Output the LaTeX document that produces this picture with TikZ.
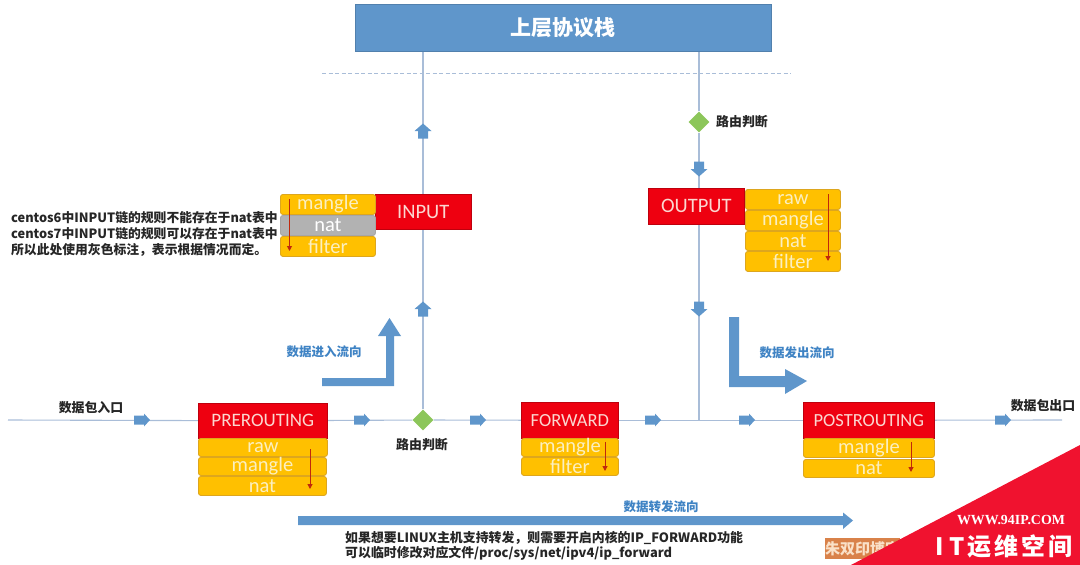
\documentclass[tikz,border=0pt]{standalone}
\usepackage{fontspec}
\setmainfont{Carlito}
\newfontfamily\cjk{Noto Sans CJK SC}
\newfontfamily\wmserif{Liberation Serif}
\usetikzlibrary{shapes.geometric,arrows.meta}
\pgfdeclarelayer{back}
\pgfsetlayers{back,main}
\definecolor{flowblue}{HTML}{5F96CB}
\definecolor{linebl}{HTML}{A9BDD8}
\definecolor{amber}{HTML}{FFC000}
\definecolor{amberline}{HTML}{DDA61E}
\definecolor{tabletext}{HTML}{FBEFC0}
\definecolor{chainred}{HTML}{EE0010}
\definecolor{headtext}{HTML}{FBD7D0}
\definecolor{deepred}{HTML}{C0280C}
\definecolor{labelblue}{HTML}{3F83C4}
\definecolor{wm}{HTML}{F0122F}
\tikzset{
  flowline/.style={draw=linebl,line width=1.1pt},
  chain/.style={fill=chainred,draw=chainred!80!black,line width=.6pt,text=headtext,anchor=north west,inner sep=0pt,font=\fontsize{20.5}{20}\selectfont},
  tablebox/.style={fill=amber,draw=amberline,line width=.9pt,rounded corners=2.5pt,text=tabletext,anchor=north west,inner sep=0pt,font=\fontsize{20.5}{19}\selectfont},
  graybox/.style={tablebox,fill=black!30,draw=black!35,text=white},
  vflowarrow/.pic={\fill[flowblue] (-7.5,-5) -- (0,-5) -- (0,-8.5) -- (7.5,0) -- (0,8.5) -- (0,5) -- (-7.5,5) -- cycle;},
  hflowarrow/.pic={\fill[flowblue] (-8,-4.5) -- (2,-4.5) -- (2,-6.5) -- (8,0) -- (2,6.5) -- (2,4.5) -- (-8,4.5) -- cycle;},
  decision/.style={diamond,aspect=1,inner sep=0pt,minimum width=21pt,minimum height=21pt,fill={rgb,255:red,140;green,198;blue,90},draw=none},
  darklabel/.style={font=\cjk\bfseries\fontsize{12.9}{15}\selectfont,text=black!85,inner sep=0pt},
  bluelabel/.style={font=\cjk\bfseries\fontsize{12.5}{14}\selectfont,text=labelblue,inner sep=0pt},
  order/.style={draw=deepred,line width=1pt,-{Triangle[length=5pt,width=5pt]}},
  bigflow/.style={fill=flowblue,draw=none}
}
\begin{document}
\begin{tikzpicture}[x=1pt,y=-1pt]
\useasboundingbox (0,0) rectangle (1080,565);
% top
\node[fill=flowblue,draw=flowblue!85!black,line width=.5pt,minimum width=416pt,minimum height=47pt,anchor=north west,inner sep=0pt,text=white,font=\cjk\bfseries\fontsize{21}{21}\selectfont] (stack) at (355,4) {上层协议栈};
\coordinate (dashL) at (322,73);
\coordinate (dashR) at (791,73);
\draw[draw=linebl,line width=.8pt,dash pattern=on 4pt off 2.5pt] (dashL) -- (dashR);
% chains
\node[chain,minimum width=96pt,minimum height=35pt] (input) at (375,194) {INPUT};
\node[tablebox,minimum width=95pt,minimum height=20pt] (inMangle) at (280,194) {mangle};
\node[graybox,minimum width=95pt,minimum height=20pt] (inNat) at (280,215) {nat};
\node[tablebox,minimum width=95pt,minimum height=20pt] (inFilter) at (280,236) {filter};
\node[chain,minimum width=96pt,minimum height=36pt] (output) at (648,188) {OUTPUT};
\node[tablebox,minimum width=95pt,minimum height=20pt] (outRaw) at (745,189) {raw};
\node[tablebox,minimum width=95pt,minimum height=20pt] (outMangle) at (745,210) {mangle};
\node[tablebox,minimum width=95pt,minimum height=19pt] (outNat) at (745,231) {nat};
\node[tablebox,minimum width=95pt,minimum height=20pt] (outFilter) at (745,251) {filter};
\node[chain,minimum width=129pt,minimum height=35pt,font=\fontsize{19}{19}\selectfont] (pre) at (198,403) {PREROUTING};
\node[tablebox,minimum width=129pt,minimum height=18pt] (preRaw) at (198,438) {raw};
\node[tablebox,minimum width=128pt,minimum height=18pt] (preMangle) at (198,457) {mangle};
\node[tablebox,minimum width=128pt,minimum height=19pt] (preNat) at (198,476) {nat};
\node[chain,minimum width=97pt,minimum height=36pt,font=\fontsize{18.5}{19}\selectfont] (forward) at (521,402) {FORWARD};
\node[tablebox,minimum width=97pt,minimum height=18pt] (fwMangle) at (521,438) {mangle};
\node[tablebox,minimum width=97pt,minimum height=18pt] (fwFilter) at (521,457) {filter};
\node[chain,minimum width=131pt,minimum height=36pt,font=\fontsize{18.5}{19}\selectfont] (post) at (803,402) {POSTROUTING};
\node[tablebox,minimum width=131pt,minimum height=19pt] (postMangle) at (803,438) {mangle};
\node[tablebox,minimum width=131pt,minimum height=18pt] (postNat) at (803,459) {nat};
% decisions
\node[decision] (dIn) at (423,420) {};
\node[decision] (dOut) at (699,122) {};
\coordinate (inEnd) at (8,420);
\coordinate (outEnd) at (1062,420);
\coordinate (join) at (699,420);
\begin{pgfonlayer}{back}
\draw[flowline] (inEnd) -- (pre);
\draw[flowline] (pre) -- (dIn);
\draw[flowline] (dIn) -- (forward);
\draw[flowline] (forward) -- (post);
\draw[flowline] (post) -- (outEnd);
\draw[flowline] (dIn) -- (dIn |- stack.south);
\draw[flowline] (join) -- (dOut);
\draw[flowline] (dOut) -- (dOut |- stack.south);
\end{pgfonlayer}
% small arrows
\pic[rotate=90] at (423,131) {vflowarrow};
\pic[rotate=90] at (423,309) {vflowarrow};
\pic[rotate=-90] at (699,169) {vflowarrow};
\pic[rotate=-90] at (699,309) {vflowarrow};
\pic at (142,420) {hflowarrow};
\pic at (362,420) {hflowarrow};
\pic at (478,420) {hflowarrow};
\pic at (653,420) {hflowarrow};
\pic at (747,420) {hflowarrow};
\pic at (1003,420) {hflowarrow};
% big flows
\fill[bigflow] (322,378) -- (386,378) -- (386,336) -- (378,336) -- (389.5,318) -- (401,336) -- (394,336) -- (394,386) -- (322,386) -- cycle;
\fill[bigflow] (729,317) -- (739,317) -- (739,376) -- (785,376) -- (785,369) -- (807,381) -- (785,394) -- (785,387) -- (729,387) -- cycle;
\fill[bigflow] (298,516) -- (843,516) -- (843,512.5) -- (853,520.5) -- (843,529) -- (843,525) -- (298,525) -- cycle;
% order arrows
\coordinate (o1a) at (289.5,199); \coordinate (o1b) at (289.5,251);
\coordinate (o2a) at (828,194); \coordinate (o2b) at (828,261);
\coordinate (o3a) at (310,449); \coordinate (o3b) at (310,489);
\coordinate (o4a) at (605,442); \coordinate (o4b) at (605,471);
\coordinate (o5a) at (911,442); \coordinate (o5b) at (911,472);
\draw[order] (o1a) -- (o1b);
\draw[order] (o2a) -- (o2b);
\draw[order] (o3a) -- (o3b);
\draw[order] (o4a) -- (o4b);
\draw[order] (o5a) -- (o5b);
% labels
\node[darklabel] (l1) at (91,408) {数据包入口};
\node[darklabel] (l2) at (1043,406) {数据包出口};
\node[darklabel] (l3) at (422,445) {路由判断};
\node[darklabel,anchor=west] (l4) at (716,122) {路由判断};
\node[bluelabel] (l5) at (324,352) {数据进入流向};
\node[bluelabel] (l6) at (797,353) {数据发出流向};
\node[bluelabel] (l7) at (661,507) {数据转发流向};
\node[darklabel,anchor=west,font=\cjk\bfseries\fontsize{12.8}{16}\selectfont,align=left] (note1) at (11,234) {centos6中INPUT链的规则不能存在于nat表中\\centos7中INPUT链的规则可以存在于nat表中\\所以此处使用灰色标注，表示根据情况而定。};
\node[darklabel,anchor=north west,font=\cjk\bfseries\fontsize{12.9}{15.5}\selectfont,align=left] (note2) at (345,531) {如果想要LINUX主机支持转发，则需要开启内核的IP\_FORWARD功能\\可以临时修改对应文件/proc/sys/net/ipv4/ip\_forward};
% stamp and watermark
\node[fill={rgb,255:red,217;green,130;blue,74},text={rgb,255:red,250;green,225;blue,200},anchor=north west,inner sep=0pt,minimum width=75pt,minimum height=21pt,font=\cjk\bfseries\fontsize{15}{15}\selectfont] (stamp) at (825,538) {朱双印博客};
\fill[wm] (1080,445) -- (851,565) -- (1080,565) -- cycle;
\node[text=white,inner sep=0pt,font=\wmserif\bfseries\fontsize{13.9}{14}\selectfont] (wm1) at (1011,520) {WWW.94IP.COM};
\node[text=white,inner sep=0pt,font=\cjk\bfseries\fontsize{24}{27}\selectfont] (wm2) at (1004,546) {I\hspace{5pt}T\hspace{3pt}运\hspace{3pt}维\hspace{3pt}空\hspace{3pt}间};
\end{tikzpicture}
\end{document}
